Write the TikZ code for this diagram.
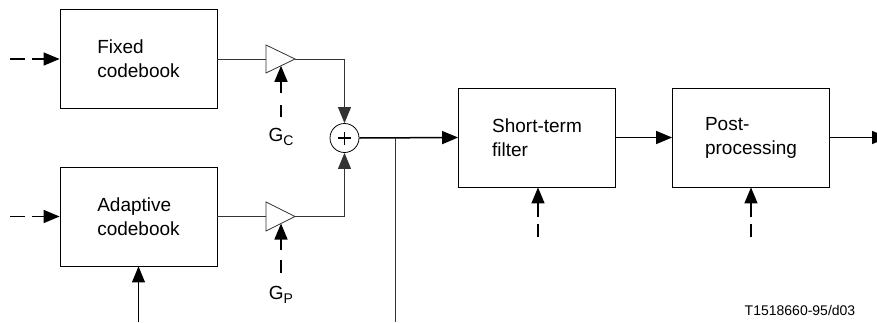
\documentclass[tikz,border=0pt]{standalone}
\usepackage{fontspec}
\setmainfont{Liberation Sans}
\usetikzlibrary{arrows.meta}
\begin{document}
\begin{tikzpicture}[x=1pt,y=-1pt,
  box/.style={draw, line width=0.8pt, minimum width=157pt, minimum height=99pt, inner sep=0pt,
    font=\fontsize{19}{24}\selectfont, align=left},
  thinline/.style={line width=0.8pt, draw=black!80},
  thickline/.style={line width=1.5pt, draw=black},
  tip/.style={-{Triangle[length=16pt,width=13pt]}},
  lbl/.style={inner sep=0pt, font=\fontsize{19}{20}\selectfont}]
\clip (0,0) rectangle (877,322);
% boxes
\node[box] (fixed) at (138.5,59) {Fixed\\codebook};
\node[box] (adapt) at (138.5,216.5) {Adaptive\\codebook};
\node[box] (short) at (537,137.5) {Short-term\\filter};
\node[box] (post) at (751,137.5) {Post-\\processing};
% amplifiers
\draw[thinline] (266,45) -- (295,59) -- (266,73) -- cycle;
\draw[thinline] (266,202) -- (295,216.5) -- (266,231) -- cycle;
\coordinate (ampCin) at (266,59);
\coordinate (ampCout) at (295,59);
\coordinate (ampPin) at (266,216.5);
\coordinate (ampPout) at (295,216.5);
% sum
\node[circle, draw, line width=0.8pt, minimum size=29pt, inner sep=0pt] (sum) at (344.5,138) {};
\draw[line width=1.3pt] ([xshift=-6.5pt]sum.center) -- ([xshift=6.5pt]sum.center);
\draw[line width=1.3pt] ([yshift=-6.5pt]sum.center) -- ([yshift=6.5pt]sum.center);
% connectors
\draw[thinline] (fixed.east) -- (ampCin);
\draw[thinline] (adapt.east) -- (ampPin);
\draw[thinline, tip] (ampCout) -| (sum.north);
\draw[thinline, tip] (ampPout) -| (sum.south);
\draw[thickline, tip] (sum.east) -- (short.west);
\coordinate (branch) at (395,138);
\coordinate (branchEnd) at (395,322);
\draw[thinline] (branch) -- (branchEnd);
\draw[thickline, tip] (short.east) -- (post.west);
\coordinate (out) at (888,137.5);
\draw[thickline, tip] (post.east) -- (out);
% inputs
\coordinate (inF) at (10,59);
\coordinate (inA) at (10,216.5);
\draw[thickline, tip, dash pattern=on 15pt off 7pt on 300pt] (inF) -- (fixed.west);
\draw[thickline, tip, dash pattern=on 15pt off 7pt on 300pt] (inA) -- (adapt.west);
% adaptive feedback
\coordinate (fb) at (138.5,322);
\draw[line width=1pt, tip] (fb) -- (adapt.south);
% gains
\coordinate (gc0) at (281,117);
\coordinate (gcTip) at (281,65.8);
\coordinate (gp0) at (281,273);
\coordinate (gpTip) at (281,223.5);
\draw[thickline, tip, dash pattern=on 12pt off 12pt on 300pt] (gc0) -- (gcTip);
\draw[thickline, tip, dash pattern=on 13pt off 10pt on 300pt] (gp0) -- (gpTip);
\node[lbl] (gc) at (281,137) {G\raisebox{-4pt}{\fontsize{14}{15}\selectfont C}};
\node[lbl] (gp) at (281,295) {G\raisebox{-4pt}{\fontsize{14}{15}\selectfont P}};
% filter controls
\coordinate (sc0) at (538,237);
\coordinate (pc0) at (751,237);
\draw[thickline, tip, dash pattern=on 13pt off 7pt on 300pt] (sc0) -- (sc0 |- short.south);
\draw[thickline, tip, dash pattern=on 13pt off 7pt on 300pt] (pc0) -- (post.south);
% caption
\node[inner sep=0pt, font=\fontsize{14}{16}\selectfont] (cap) at (800,310) {T1518660-95/d03};
\end{tikzpicture}
\end{document}
